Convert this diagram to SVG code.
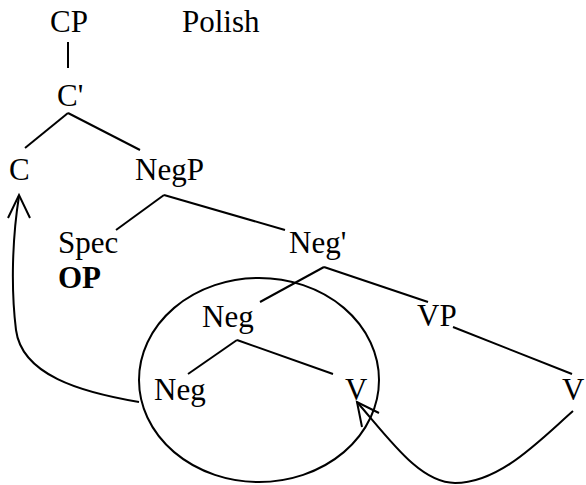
<svg xmlns="http://www.w3.org/2000/svg" width="586" height="485" viewBox="0 0 586 485">
<style>
text{font-family:"Liberation Serif","Times New Roman",serif;font-size:31px;fill:#000}
.b{font-weight:bold}
line,path,ellipse{stroke:#000;stroke-width:2;fill:none}
</style>
<rect width="586" height="485" fill="#fff"/>
<g id="connectors">
<line x1="68" y1="42" x2="68" y2="68"/>
<line x1="68" y1="113" x2="25" y2="148"/>
<line x1="68" y1="113" x2="140" y2="150"/>
<line x1="164" y1="195" x2="116" y2="230"/>
<line x1="164" y1="195" x2="285" y2="230"/>
<line x1="324" y1="267" x2="260" y2="302"/>
<line x1="324" y1="267" x2="428" y2="302"/>
<line x1="237" y1="340" x2="188" y2="374"/>
<line x1="237" y1="340" x2="333" y2="374"/>
<line x1="453" y1="327" x2="572" y2="374"/>
<ellipse cx="259" cy="380" rx="120" ry="102"/>
<path d="M139,402 C80,392 22,375 16,330 C11,290 12,240 19,196"/>
<path d="M8,218 L19,195 L30,218"/>
<path d="M573,411 C540,440 500,483 455,483 C420,483 390,440 357,402"/>
<path d="M362,427 L357,402 L379,413"/>
</g>
<g id="n-CP"><text x="50" y="32">CP</text></g>
<g id="n-Polish"><text x="182" y="32">Polish</text></g>
<g id="n-Cbar"><text x="57" y="106">C'</text></g>
<g id="n-C"><text x="9" y="180">C</text></g>
<g id="n-NegP"><text x="135" y="180">NegP</text></g>
<g id="n-Spec"><text x="58" y="253">Spec</text><text class="b" x="58" y="288">OP</text></g>
<g id="n-Negbar"><text x="289" y="253">Neg'</text></g>
<g id="n-Neg1"><text x="202" y="327">Neg</text></g>
<g id="n-VP"><text x="417" y="326">VP</text></g>
<g id="n-Neg2"><text x="154" y="400">Neg</text></g>
<g id="n-V1"><text x="345" y="400">V</text></g>
<g id="n-V2"><text x="562" y="400">V</text></g>
</svg>
